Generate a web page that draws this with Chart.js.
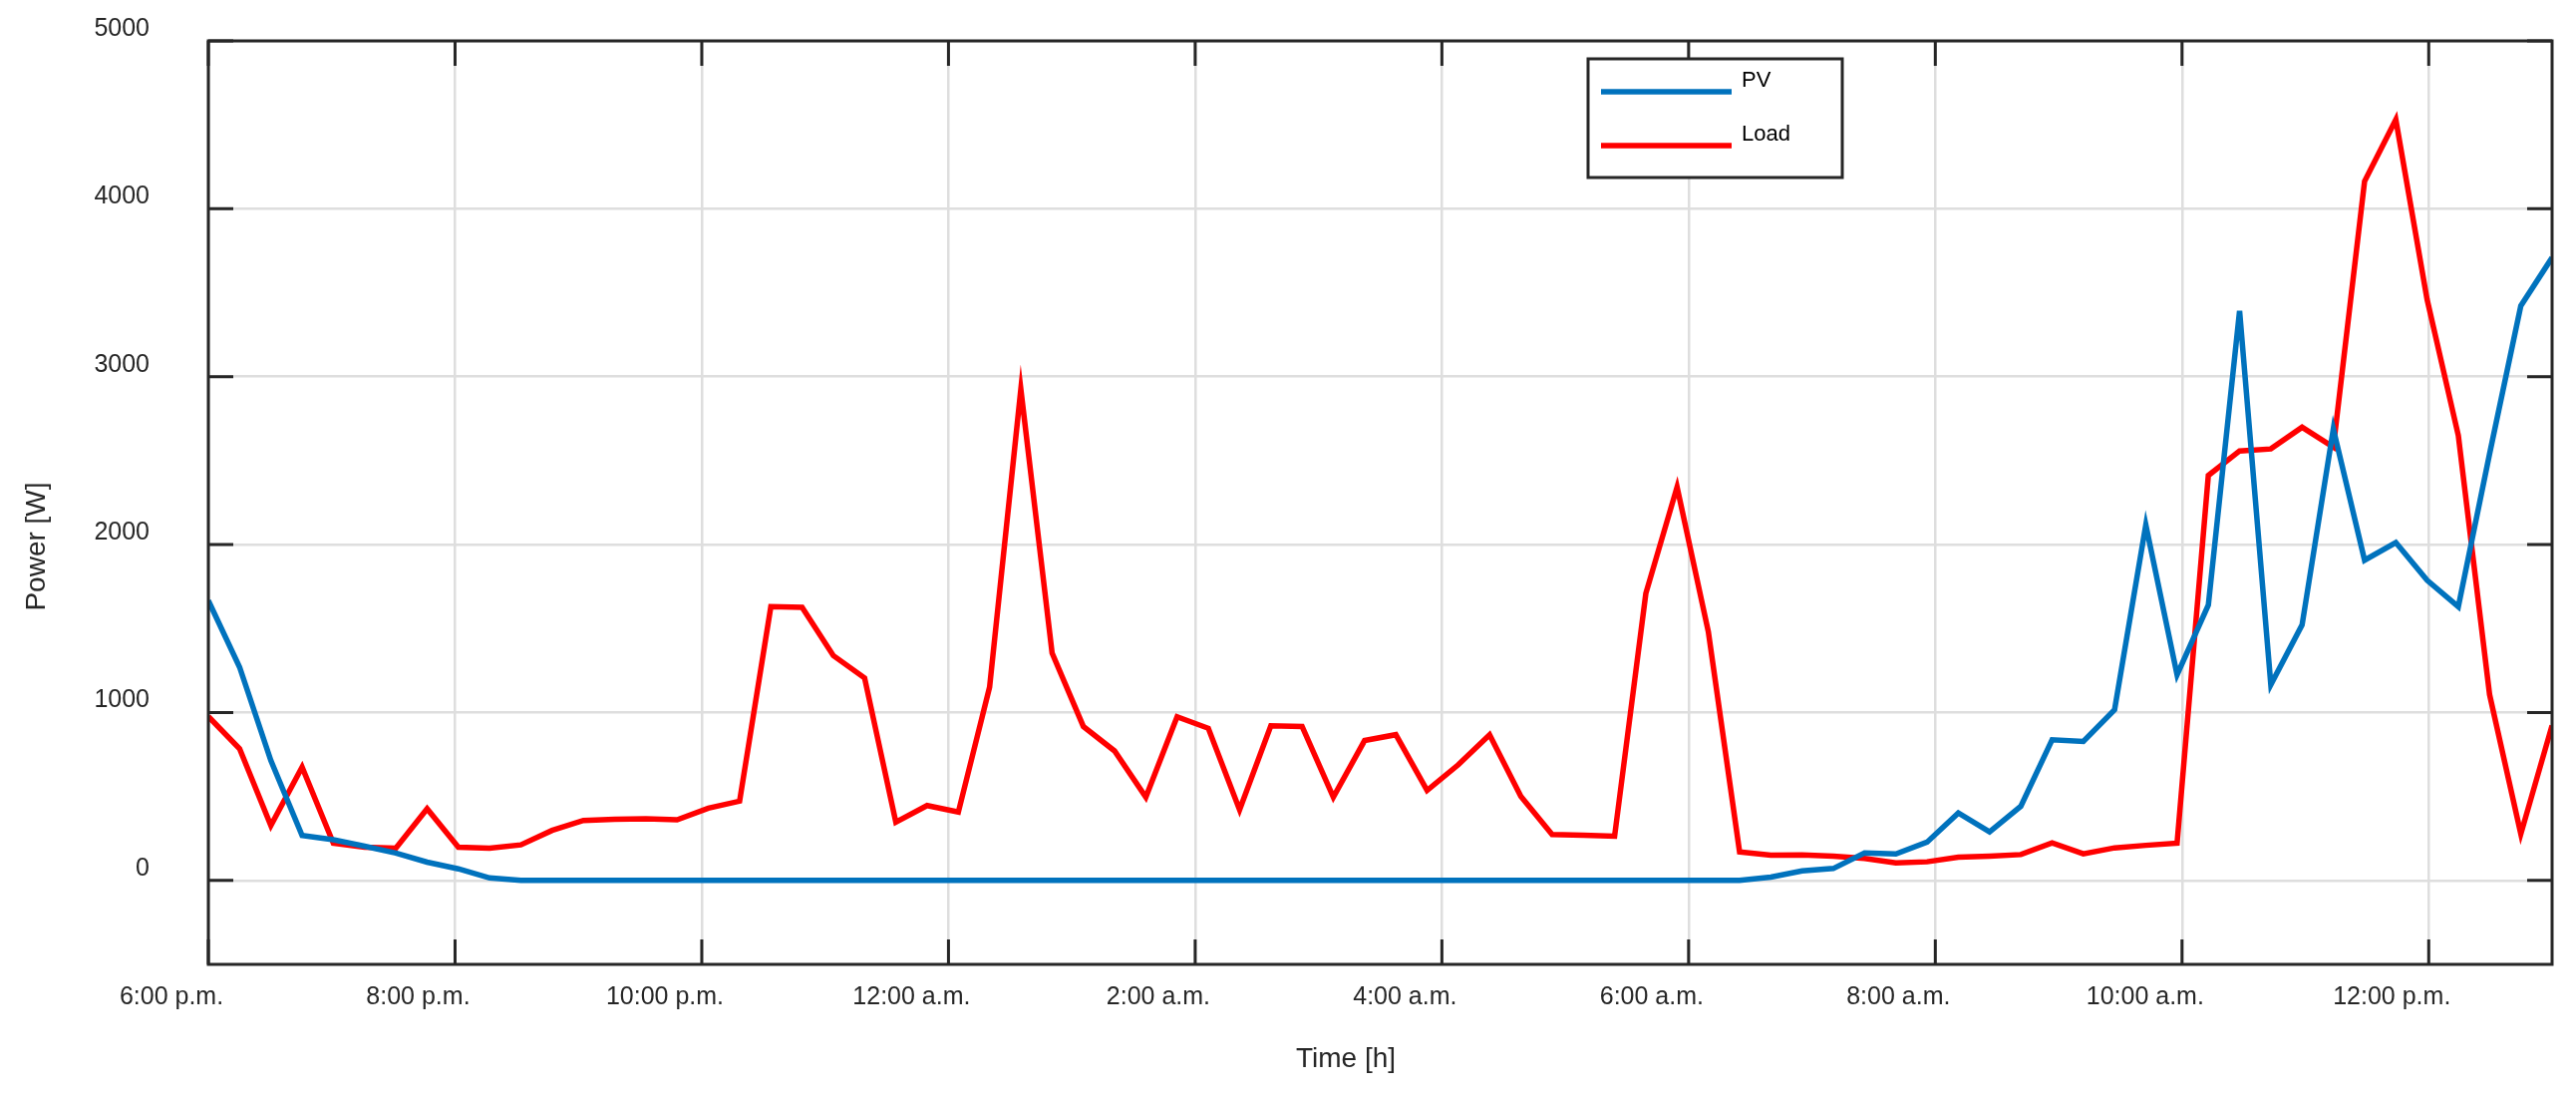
<!DOCTYPE html>
<html>
<head>
<meta charset="utf-8">
<script src="https://cdn.jsdelivr.net/npm/chart.js@4.4.1/dist/chart.umd.min.js"></script>
<style>
  html, body { margin: 0; padding: 0; background: #fff; }
  #wrap { width: 2584px; height: 1104px; }
</style>
</head>
<body>
<div id="wrap"><canvas id="powerChart" width="2584" height="1104"></canvas></div>
<script>
// PV and load power [W], sampled 76 times between 6:00 p.m. and 1:00 p.m.
const pvPower = [
  1667, 1270, 714, 268, 242, 204, 163, 109, 69, 15,
  0, 0, 0, 0, 0, 0, 0, 0, 0, 0,
  0, 0, 0, 0, 0, 0, 0, 0, 0, 0,
  0, 0, 0, 0, 0, 0, 0, 0, 0, 0,
  0, 0, 0, 0, 0, 0, 0, 0, 0, 0,
  20, 57, 71, 164, 158, 228, 402, 289, 442, 838,
  828, 1016, 2117, 1225, 1640, 3392, 1166, 1522, 2689, 1907,
  2012, 1788, 1630, 2540, 3422, 3709
];
const loadPower = [
  976, 784, 327, 675, 222, 198, 192, 427, 198, 192,
  212, 298, 357, 364, 367, 361, 430, 472, 1631, 1627,
  1339, 1206, 347, 446, 407, 1151, 2925, 1354, 917, 771,
  496, 975, 906, 421, 921, 917, 496, 833, 868, 536,
  689, 867, 501, 273, 269, 263, 1709, 2343, 1481, 170,
  150, 152, 145, 131, 105, 111, 139, 145, 154, 224,
  158, 194, 209, 222, 2412, 2558, 2570, 2699, 2580, 4164,
  4531, 3461, 2650, 1107, 277, 923
];
const seriesNames = ['PV', 'Load'];
const seriesColors = ['#0072BD', '#FF0000'];
const timeTicks = [0, 2, 4, 6, 8, 10, 12, 14, 16, 18];   // hours after 6:00 p.m.
const timeLabels = ['6:00 p.m.', '8:00 p.m.', '10:00 p.m.', '12:00 a.m.', '2:00 a.m.',
  '4:00 a.m.', '6:00 a.m.', '8:00 a.m.', '10:00 a.m.', '12:00 p.m.'];
const powerTicks = [0, 1000, 2000, 3000, 4000, 5000];
const spanHours = 19;   // 6:00 p.m. -> 1:00 p.m.
const yMin = -500, yMax = 5000;

const stepHours = spanHours / (pvPower.length - 1);
const toPoints = arr => arr.map((v, i) => ({ x: i * stepHours, y: v }));

const ink = '#262626';
const font = 'Liberation Sans, Arial, sans-serif';

// box round the plot with inward ticks on all four sides
const frame = {
  id: 'frame',
  afterDatasetsDraw(chart) {
    const { ctx, chartArea: a, scales: { x, y } } = chart;
    const len = 25;
    ctx.save();
    ctx.strokeStyle = ink;
    ctx.lineWidth = 3;
    ctx.beginPath();
    x.ticks.forEach(t => {
      const px = x.getPixelForValue(t.value);
      ctx.moveTo(px, a.bottom); ctx.lineTo(px, a.bottom - len);
      ctx.moveTo(px, a.top); ctx.lineTo(px, a.top + len);
    });
    y.ticks.forEach(t => {
      const py = y.getPixelForValue(t.value);
      ctx.moveTo(a.left, py); ctx.lineTo(a.left + len, py);
      ctx.moveTo(a.right, py); ctx.lineTo(a.right - len, py);
    });
    ctx.stroke();
    ctx.strokeRect(a.left, a.top, a.right - a.left, a.bottom - a.top);
    ctx.restore();
  }
};

// legend box inside the plot, and the two axis titles
const annotations = {
  id: 'annotations',
  afterDraw(chart) {
    const ctx = chart.ctx;
    ctx.save();
    const bx = 1593, by = 59, bw = 255, bh = 119;
    ctx.fillStyle = '#fff';
    ctx.fillRect(bx, by, bw, bh);
    ctx.strokeStyle = ink;
    ctx.lineWidth = 3;
    ctx.strokeRect(bx, by, bw, bh);
    chart.data.datasets.forEach((ds, i) => {
      const ly = 92 + i * 54;
      ctx.strokeStyle = ds.borderColor;
      ctx.lineWidth = 5.5;
      ctx.beginPath();
      ctx.moveTo(1606, ly);
      ctx.lineTo(1737, ly);
      ctx.stroke();
      ctx.fillStyle = '#000';
      ctx.font = '22px ' + font;
      ctx.textAlign = 'left';
      ctx.textBaseline = 'middle';
      ctx.fillText(ds.label, 1747, ly - 11);
    });

    ctx.fillStyle = ink;
    ctx.font = '28px ' + font;
    ctx.textAlign = 'center';
    ctx.textBaseline = 'middle';
    ctx.fillText('Time [h]', 1350, 1062);
    ctx.translate(37, 548);
    ctx.rotate(-Math.PI / 2);
    ctx.fillText('Power [W]', 0, 0);
    ctx.restore();
  }
};

new Chart(document.getElementById('powerChart').getContext('2d'), {
  type: 'line',
  data: {
    datasets: [
      {
        label: seriesNames[0],
        data: toPoints(pvPower),
        borderColor: seriesColors[0],
        borderWidth: 5.5,
        pointRadius: 0,
        tension: 0,
        fill: false
      },
      {
        label: seriesNames[1],
        data: toPoints(loadPower),
        borderColor: seriesColors[1],
        borderWidth: 5.5,
        pointRadius: 0,
        tension: 0,
        fill: false
      }
    ]
  },
  options: {
    responsive: false,
    animation: false,
    devicePixelRatio: 1,
    layout: { padding: { top: 41, right: 24, bottom: 0, left: 0 } },
    plugins: {
      legend: { display: false },
      tooltip: { enabled: false }
    },
    scales: {
      x: {
        type: 'linear',
        min: 0,
        max: spanHours,
        afterFit: s => { s.height = 137; s.paddingLeft = 0; s.paddingRight = 0; },
        afterBuildTicks: s => { s.ticks = timeTicks.map(v => ({ value: v })); },
        grid: { color: '#dedede', lineWidth: 2.5, drawTicks: false },
        border: { display: false },
        ticks: {
          autoSkip: false,
          maxRotation: 0,
          padding: 18,
          labelOffset: -37,
          color: ink,
          font: { size: 25, family: font },
          callback: v => timeLabels[timeTicks.indexOf(v)]
        }
      },
      y: {
        min: yMin,
        max: yMax,
        afterFit: s => { s.width = 209; s.paddingTop = 0; s.paddingBottom = 0; },
        afterBuildTicks: s => { s.ticks = powerTicks.map(v => ({ value: v })); },
        grid: { color: '#dedede', lineWidth: 2.5, drawTicks: false },
        border: { display: false },
        ticks: {
          autoSkip: false,
          padding: 59,
          labelOffset: -12,
          color: ink,
          font: { size: 25, family: font },
          callback: v => String(v)
        }
      }
    }
  },
  plugins: [frame, annotations]
});
</script>
</body>
</html>
